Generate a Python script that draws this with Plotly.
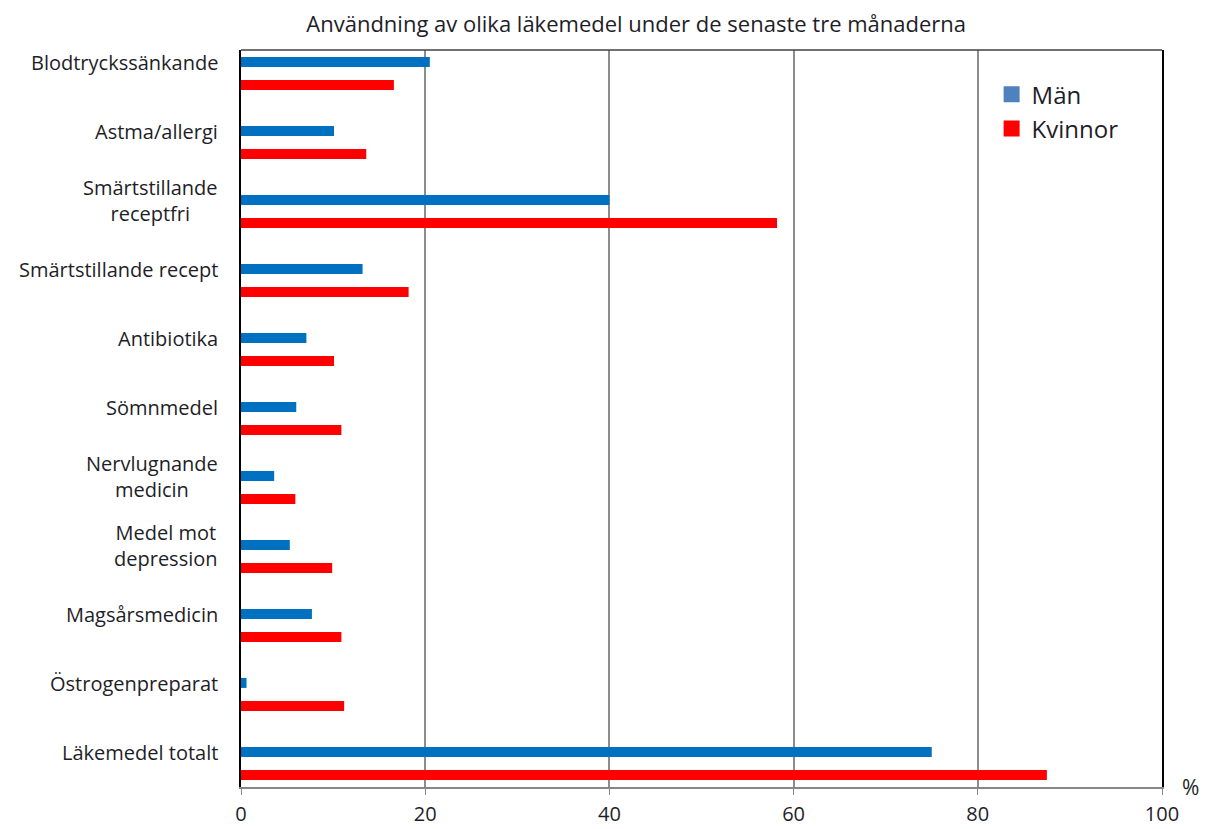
import plotly.graph_objects as go

categories = [
    "Blodtryckssänkande",
    "Astma/allergi",
    "Smärtstillande<br>receptfri",
    "Smärtstillande recept",
    "Antibiotika",
    "Sömnmedel",
    "Nervlugnande<br>medicin",
    "Medel mot<br>depression",
    "Magsårsmedicin",
    "Östrogenpreparat",
    "Läkemedel totalt",
]
man = [20.5, 10.1, 40.0, 13.2, 7.1, 6.0, 3.6, 5.3, 7.7, 0.6, 75.0]
kvinnor = [16.6, 13.6, 58.2, 18.2, 10.1, 10.9, 5.9, 9.9, 10.9, 11.2, 87.5]
x_ticks = [0, 20, 40, 60, 80, 100]

FONT = "Open Sans"
TXT = "#1e1e28"
BLUE = "#0070C0"
RED = "#FF0000"

fig = go.Figure()
fig.add_trace(go.Bar(y=categories, x=man, orientation="h", marker=dict(color=BLUE, line=dict(width=0)),
                     width=0.145, offset=-0.24, showlegend=False, name="Män"))
fig.add_trace(go.Bar(y=categories, x=kvinnor, orientation="h", marker=dict(color=RED, line=dict(width=0)),
                     width=0.145, offset=0.095, showlegend=False, name="Kvinnor"))
# legend entries
fig.add_trace(go.Scatter(x=[None], y=[None], mode="markers", name="Män",
                         marker=dict(symbol="square", size=16, color="#4F81BD")))
fig.add_trace(go.Scatter(x=[None], y=[None], mode="markers", name="Kvinnor",
                         marker=dict(symbol="square", size=16, color=RED)))

for c in categories:
    fig.add_annotation(x=0, xref="paper", y=c, yref="y", text=c, showarrow=False,
                       xanchor="right", yanchor="middle", align="center", xshift=-21, yshift=11,
                       font=dict(family=FONT, size=20, color=TXT))

fig.add_annotation(x=1, xref="paper", y=0, yref="paper", text="%", showarrow=False,
                   xanchor="left", yanchor="middle", xshift=18, yshift=0,
                   font=dict(family=FONT, size=21, color=TXT))

fig.add_shape(type="line", xref="paper", yref="paper", x0=0, x1=1, y0=1, y1=1,
              line=dict(color="#404040", width=1.5))

fig.update_layout(
    width=1192, height=821,
    margin=dict(l=233, r=38, t=42, b=42, autoexpand=False),
    paper_bgcolor="white", plot_bgcolor="white",
    barmode="overlay",
    title=dict(text="Användning av olika läkemedel under de senaste tre månaderna",
               x=0.527, xref="container", xanchor="center", y=0.980, yanchor="middle",
               font=dict(family=FONT, size=22, color=TXT)),
    xaxis=dict(range=[0, 100], tickvals=x_ticks, ticks="outside", ticklen=6, tickcolor="#868686",
               showgrid=True, gridcolor="#8c8c8c", gridwidth=1.5, zeroline=False, automargin=False,
               showline=True, linecolor="#868686", linewidth=1.5, ticklabelstandoff=2,
               tickfont=dict(family=FONT, size=20, color=TXT), fixedrange=True),
    yaxis=dict(type="category", categoryorder="array", categoryarray=categories, automargin=False,
               range=[10.341, -0.341], showticklabels=False, ticks="", showgrid=False,
               zeroline=False, showline=True, linecolor="#000000", linewidth=1.5, mirror=True),
    legend=dict(x=0.815, y=0.97, xanchor="left", yanchor="top", bgcolor="rgba(0,0,0,0)",
                font=dict(family=FONT, size=24, color=TXT), itemsizing="trace"),
    font=dict(family=FONT),
)

fig.write_html("out.html")
